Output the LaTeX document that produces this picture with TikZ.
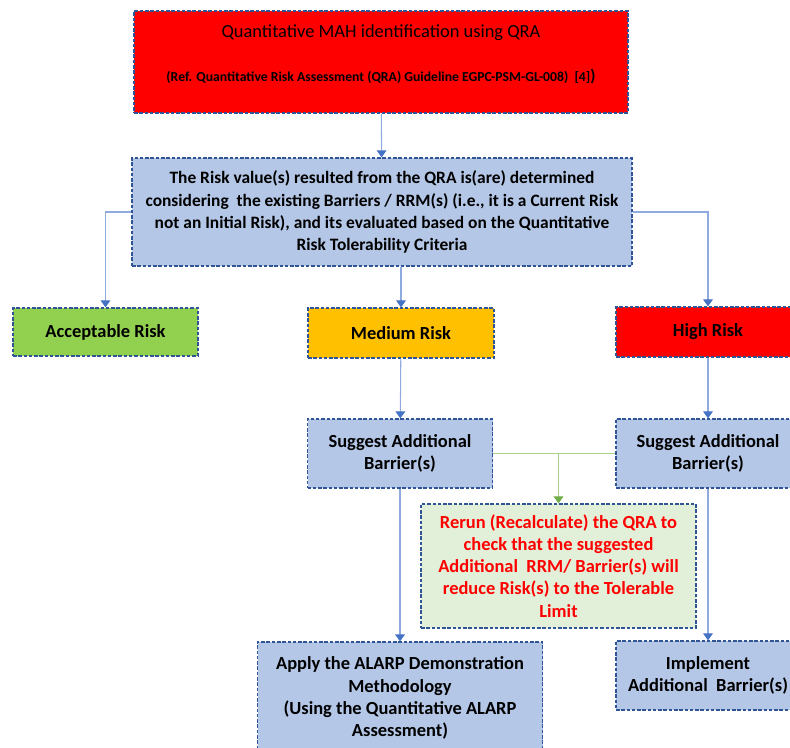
\documentclass[tikz,border=0pt]{standalone}
\usepackage{fontspec}
\setmainfont{Carlito}
\usepackage{tikz}
\usetikzlibrary{arrows.meta}
\usepackage{xcolor}
\definecolor{BoxRed}{HTML}{FF0000}
\definecolor{BoxBlue}{HTML}{B4C7E7}
\definecolor{BoxGreen}{HTML}{92D050}
\definecolor{BoxOrange}{HTML}{FFC000}
\definecolor{BoxMint}{HTML}{E2F0D9}
\definecolor{EdgeBlue}{HTML}{2F5597}
\definecolor{LinkBlue}{HTML}{8FAADC}
\definecolor{TipBlue}{HTML}{4472C4}
\definecolor{LinkGreen}{HTML}{A9D18E}
\definecolor{TipGreen}{HTML}{70AD47}

\begin{document}
\begin{tikzpicture}[
  box/.style={draw=EdgeBlue,dash pattern=on 2pt off 1pt,line width=.7pt,align=center,inner sep=0pt,
    font=\bfseries\fontsize{10.5}{12.6}\selectfont},
  link/.style={LinkBlue,line width=.6pt,-{Triangle[color=TipBlue,length=4pt,width=5.5pt]}},
  greenlink/.style={LinkGreen,line width=.6pt}]
\useasboundingbox (0,0) rectangle (15.8,-14.94);
\clip (0,0) rectangle (15.8,-14.94);

% QRA
\node[box,fill=BoxRed,minimum width=9.88cm,minimum height=2.04cm,text depth=10pt] (qra) at (7.62,-1.24)
  {\mdseries Quantitative MAH identification using QRA\\[12.5pt]
   {\fontsize{7.8}{9}\selectfont (Ref. Quantitative Risk Assessment (QRA) Guideline EGPC-PSM-GL-008)\ \ [4]}{\fontsize{9.5}{9}\selectfont)}};
\node[box,fill=BoxBlue,minimum width=10cm,minimum height=2.16cm,font=\bfseries\fontsize{9.9}{12.6}\selectfont] (eval) at (7.64,-4.24)
  {The Risk value(s) resulted from the QRA is(are) determined\\
   considering\ \ the existing Barriers / RRM(s) (i.e., it is a Current Risk\\
   not an Initial Risk), and its evaluated based on the Quantitative\\
   Risk Tolerability Criteria};

% Risk levels
\node[box,fill=BoxGreen,minimum width=3.70cm,minimum height=.96cm] (accept) at (2.11,-6.64) {Acceptable Risk};
\node[box,fill=BoxOrange,minimum width=3.72cm,minimum height=1cm] (medium) at (8.02,-6.66) {Medium Risk};
\node[box,fill=BoxRed,minimum width=3.68cm,minimum height=1cm] (high) at (14.16,-6.64) {High Risk};

% Barriers
\node[box,fill=BoxBlue,minimum width=3.70cm,minimum height=1.38cm] (sugL) at (8,-9.07) {Suggest Additional\\Barrier(s)};
\node[box,fill=BoxBlue,minimum width=3.68cm,minimum height=1.38cm] (sugR) at (14.16,-9.07) {Suggest Additional\\Barrier(s)};
\node[box,fill=BoxMint,text=BoxRed,minimum width=5.50cm,minimum height=2.48cm] (rerun) at (11.17,-11.32)
  {Rerun (Recalculate) the QRA to\\check that the suggested\\Additional\ \ RRM/ Barrier(s) will\\reduce Risk(s) to the Tolerable\\Limit};
\node[box,fill=BoxBlue,minimum width=5.70cm,minimum height=2.24cm] (apply) at (8,-13.96)
  {Apply the ALARP Demonstration\\Methodology\\(Using the Quantitative ALARP\\Assessment)};
\node[box,fill=BoxBlue,minimum width=3.68cm,minimum height=1.38cm] (impl) at (14.16,-13.51) {Implement\\Additional\ \ Barrier(s)};

% Connectors
\draw[link] (qra) -- (eval);
\draw[link] (eval.west) -| (accept.north);
\draw[link] (eval.east) -| (high.north);
\draw[link] (eval.south -| medium.north) -- (medium.north);
\draw[link] (medium) -- (sugL);
\draw[link] (high) -- (sugR);
\draw[link] (sugL) -- (apply);
\draw[link] (sugR) -- (impl);
\draw[greenlink] (sugL.east) -- (sugR.west);
\draw[greenlink,-{Triangle[color=TipGreen,length=4pt,width=5.5pt]}] (rerun.north |- sugL.east) -- (rerun.north);
\end{tikzpicture}
\end{document}
